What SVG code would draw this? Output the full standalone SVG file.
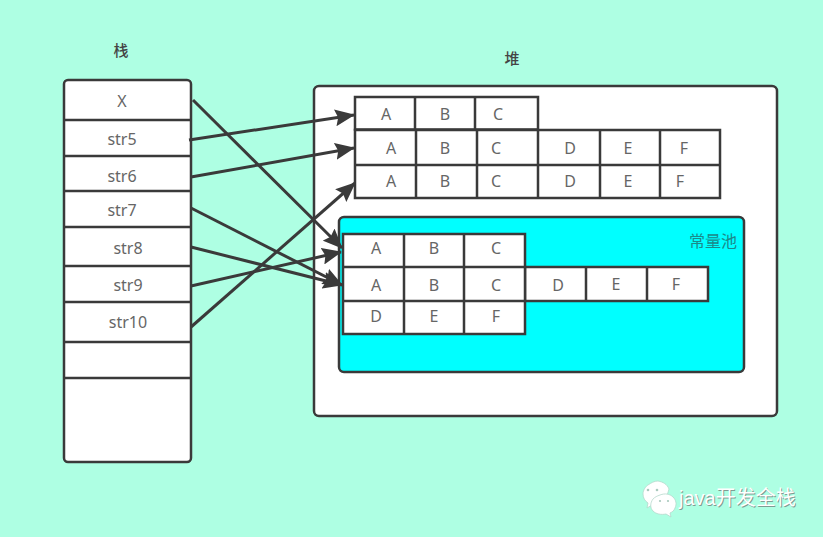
<svg xmlns="http://www.w3.org/2000/svg" width="823" height="537" viewBox="0 0 823 537">
  <style>
    .box { fill: #fff; stroke: #3a3a3a; stroke-width: 2.5; }
    .div { fill: none; stroke: #3a3a3a; stroke-width: 2.5; }
    .lbl { font-family: "Noto Sans", "Liberation Sans", sans-serif; font-size: 16px; fill: #666; text-anchor: middle; }
    .cap { font-family: "Noto Sans CJK SC", sans-serif; font-size: 15px; font-weight: 500; fill: #444; text-anchor: middle; }
    .arrow { fill: none; stroke: #3a3a3a; stroke-width: 3; marker-end: url(#head); }
    .bubble { fill: #fff; stroke: #b5d8cb; stroke-width: 0.8; }
  </style>
  <defs>
    <marker id="head" markerUnits="userSpaceOnUse" markerWidth="20" markerHeight="17" refX="19" refY="8.500" orient="auto">
      <path d="M0 0 L20 8.500 L0 17 L3 8.500 Z" fill="#3a3a3a"/>
    </marker>
  </defs>

  <rect width="823" height="537" fill="#aeffe3"/>

  <g id="stack">
    <rect class="box" x="64" y="80" width="127" height="382" rx="4"/>
    <path class="div" d="M64 120H191M64 156H191M64 191H191M64 227H191M64 266H191M64 302H191M64 342H191M64 378H191"/>
    <text class="cap" x="121" y="56">栈</text>
    <text class="lbl" x="122" y="107">X</text>
    <text class="lbl" x="122" y="145">str5</text>
    <text class="lbl" x="122" y="182">str6</text>
    <text class="lbl" x="122" y="216">str7</text>
    <text class="lbl" x="128" y="254">str8</text>
    <text class="lbl" x="128" y="291">str9</text>
    <text class="lbl" x="128" y="328">str10</text>
  </g>

  <g id="heap">
    <rect class="box" x="314" y="86" width="463" height="330" rx="5"/>
    <text class="cap" x="512" y="64">堆</text>
  </g>

  <g id="heap-strings">
    <rect class="box" x="355" y="97" width="183" height="32.500"/>
    <rect class="box" x="355" y="130" width="365" height="68"/>
    <path class="div" d="M415 97V129M475 97V129M355 165H720M416 130V198M477 130V198M538 130V198M600 130V198M660 130V198"/>
    <text class="lbl" x="386" y="120">A</text>
    <text class="lbl" x="445" y="120">B</text>
    <text class="lbl" x="498" y="120">C</text>
    <text class="lbl" x="391" y="154">A</text>
    <text class="lbl" x="445" y="154">B</text>
    <text class="lbl" x="496" y="154">C</text>
    <text class="lbl" x="570" y="154">D</text>
    <text class="lbl" x="628" y="154">E</text>
    <text class="lbl" x="684" y="154">F</text>
    <text class="lbl" x="391" y="187">A</text>
    <text class="lbl" x="445" y="187">B</text>
    <text class="lbl" x="496" y="187">C</text>
    <text class="lbl" x="570" y="187">D</text>
    <text class="lbl" x="628" y="187">E</text>
    <text class="lbl" x="680" y="187">F</text>
  </g>

  <g id="constant-pool">
    <rect x="339" y="217" width="405" height="155" rx="5" fill="#00ffff" stroke="#3a3a3a" stroke-width="2.500"/>
    <text x="713" y="247" font-family="'Noto Sans CJK SC', sans-serif" font-size="16" fill="#1b8a8a" text-anchor="middle">常量池</text>
    <rect class="box" x="525" y="267" width="183" height="34"/>
    <rect class="box" x="343" y="234" width="182" height="100"/>
    <path class="div" d="M343 267H525M343 301H525M404 234V334M464 234V334M586 267V301M647 267V301"/>
    <text class="lbl" x="376" y="254">A</text>
    <text class="lbl" x="434" y="254">B</text>
    <text class="lbl" x="496" y="254">C</text>
    <text class="lbl" x="376" y="291">A</text>
    <text class="lbl" x="434" y="291">B</text>
    <text class="lbl" x="496" y="291">C</text>
    <text class="lbl" x="558" y="291">D</text>
    <text class="lbl" x="616" y="290">E</text>
    <text class="lbl" x="676" y="290">F</text>
    <text class="lbl" x="376" y="322">D</text>
    <text class="lbl" x="434" y="322">E</text>
    <text class="lbl" x="496" y="322">F</text>
  </g>

  <g id="connectors">
    <line class="arrow" x1="193" y1="100" x2="342" y2="248"/>
    <line class="arrow" x1="189" y1="140" x2="354" y2="115"/>
    <line class="arrow" x1="191" y1="177" x2="354" y2="148"/>
    <line class="arrow" x1="191" y1="208" x2="342" y2="285"/>
    <line class="arrow" x1="191" y1="247" x2="342" y2="285"/>
    <line class="arrow" x1="191" y1="286" x2="341" y2="252"/>
    <line class="arrow" x1="191" y1="327" x2="355" y2="183"/>
  </g>

  <g id="watermark">
    <path class="bubble" d="M648 485c-2 1-5 5-5 9c0 4 2 7 5 9l-1 5l5-3c3 1 5 1 8 1l6-7l3-10c-2-5-6-7-11-8c-4 0-7 2-10 4z"/>
    <path class="bubble" d="M660 495c5-2 10-1 13 2c3 3 4 7 2 11c-1 3-3 4-5 5l1 4l-5-3c-5 1-10 0-13-3c-3-3-3-8 0-12c2-2 4-3 7-4z"/>
    <g fill="#a9c9bd">
      <circle cx="648" cy="490" r="1.300"/><circle cx="657" cy="490" r="1.300"/>
      <circle cx="660" cy="501" r="1.100"/><circle cx="668" cy="501" r="1.100"/>
    </g>
    <text x="680" y="506" font-family="'Liberation Sans', 'Noto Sans CJK SC', sans-serif" font-size="20" fill="#7f9c92">java开发全栈</text>
    <text x="679" y="505" font-family="'Liberation Sans', 'Noto Sans CJK SC', sans-serif" font-size="20" fill="#fff">java开发全栈</text>
  </g>
</svg>
